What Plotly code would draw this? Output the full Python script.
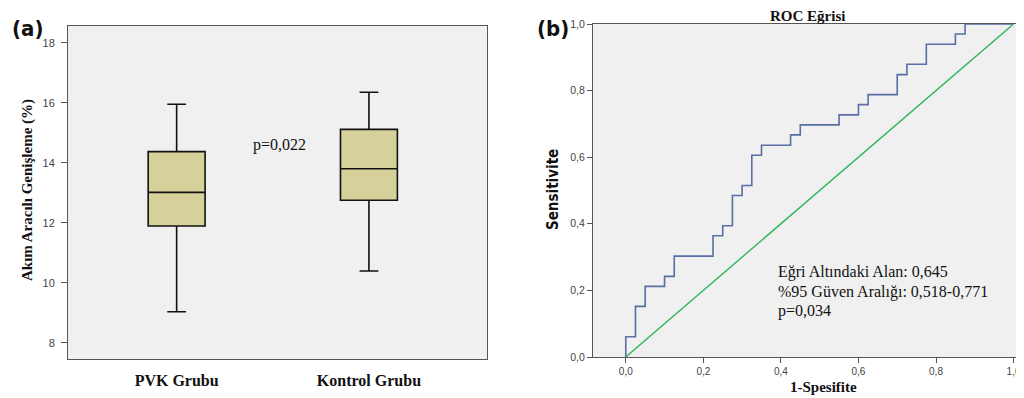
import plotly.graph_objects as go

# ---------------- data ----------------
groups = ["PVK Grubu", "Kontrol Grubu"]
lower_whisker = [9.03, 10.39]
q1_vals = [11.89, 12.75]
median_vals = [13.01, 13.80]
q3_vals = [14.37, 15.11]
upper_whisker = [15.95, 16.35]
p_group = "p=0,022"

roc_fpr = [0.0, 0.0, 0.025, 0.05, 0.10, 0.125, 0.225, 0.25, 0.275, 0.30, 0.325, 0.35,
           0.425, 0.45, 0.55, 0.60, 0.625, 0.70, 0.725, 0.775, 0.85, 0.875, 1.0]
roc_tpr = [0.0, 0.061, 0.152, 0.212, 0.242, 0.303, 0.364, 0.394, 0.485, 0.515, 0.606, 0.636,
           0.667, 0.697, 0.727, 0.758, 0.788, 0.848, 0.879, 0.939, 0.970, 1.0, 1.0]
ref_line = [0.0, 1.0]
roc_text = ["Eğri Altındaki Alan: 0,645", "%95 Güven Aralığı: 0,518-0,771", "p=0,034"]

left_yticks = [8, 10, 12, 14, 16, 18]
roc_ticks = [0.0, 0.2, 0.4, 0.6, 0.8, 1.0]

# page body has an 8px margin, so the figure is placed 8px in from the top-left
OFF = 8
W, H = 1024 - OFF, 398 - OFF
def px(x):
    return (x - OFF) / W
def py(y):
    return 1 - (y - OFF) / H

SERIF = "Liberation Serif, Times New Roman, serif"
SANS = "Liberation Sans, Arial, sans-serif"
NARROW = "Liberation Sans Narrow, DejaVu Sans Condensed, Arial Narrow, sans-serif"
FRAME = "#555555"
BOXFILL = "#d6d09b"
PLOTBG = "#f0f0f0"

fig = go.Figure()

for i, g in enumerate(groups):
    fig.add_trace(go.Box(
        x=[i], q1=[q1_vals[i]], median=[median_vals[i]], q3=[q3_vals[i]],
        lowerfence=[lower_whisker[i]], upperfence=[upper_whisker[i]],
        name=g, fillcolor=BOXFILL, line=dict(color="#111111", width=1.6),
        width=0.296, whiskerwidth=0.33, boxpoints=False,
        xaxis="x", yaxis="y", showlegend=False, hoverinfo="skip"))

fig.add_trace(go.Scatter(
    x=roc_fpr, y=roc_tpr, mode="lines", line=dict(color="#5a6ea6", width=1.6, shape="hv"),
    xaxis="x2", yaxis="y2", showlegend=False, cliponaxis=False))
fig.add_trace(go.Scatter(
    x=ref_line, y=ref_line, mode="lines", line=dict(color="#2fb55a", width=1.4),
    xaxis="x2", yaxis="y2", showlegend=False, cliponaxis=False))

axis_common = dict(showline=True, mirror=True, linecolor=FRAME, linewidth=1,
                   showgrid=False, zeroline=False, automargin=False)

fig.update_layout(
    width=W, height=H, margin=dict(l=0, r=0, t=0, b=0, autoexpand=False),
    paper_bgcolor="white", plot_bgcolor=PLOTBG,
    separators=",.",
    xaxis=dict(domain=[px(68), px(487)], range=[-0.565, 1.614], anchor="y",
               tickvals=[0, 1], ticktext=["<b>%s</b>" % g for g in groups],
               ticks="", ticklabelstandoff=7,
               tickfont=dict(family=SERIF, size=16, color="#111111"), **axis_common),
    yaxis=dict(domain=[py(359), py(26)], range=[7.457, 18.557], anchor="x",
               tickvals=left_yticks, ticks="outside", ticklen=6, tickcolor=FRAME,
               ticklabelstandoff=4,
               tickfont=dict(family=SANS, size=11, color="#444444"), **axis_common),
    xaxis2=dict(domain=[px(593), 1.0], range=[-0.0845, 1.0269], anchor="y2",
                tickvals=roc_ticks, tickformat=".1f", ticks="outside", ticklen=5,
                tickcolor=FRAME, tickfont=dict(family=SANS, size=10, color="#444444"),
                **axis_common),
    yaxis2=dict(domain=[py(357), py(24)], range=[0, 1], anchor="x2",
                tickvals=roc_ticks, tickformat=".1f", ticks="outside", ticklen=5,
                tickcolor=FRAME, tickfont=dict(family=SANS, size=10.5, color="#444444"),
                **axis_common),
)

ann = []
ann.append(dict(x=px(27), y=py(28), text="<b>(a)</b>", font=dict(family=NARROW, size=22, color="#111")))
ann.append(dict(x=px(553), y=py(28), text="<b>(b)</b>", font=dict(family=NARROW, size=22, color="#111")))
ann.append(dict(x=px(27), y=py(190), text="<b>Akım Aracılı Genişleme (%)</b>", textangle=-90,
                font=dict(family=SERIF, size=15, color="#111")))
ann.append(dict(x=px(553), y=py(190), text="<b>Sensitivite</b>", textangle=-90,
                font=dict(family=NARROW, size=15, color="#111")))
ann.append(dict(x=px(279), y=py(145), text=p_group, font=dict(family=SERIF, size=16, color="#111")))
ann.append(dict(x=px(807), y=py(16), text="<b>ROC Eğrisi</b>", font=dict(family=SERIF, size=15, color="#111")))
ann.append(dict(x=px(823), y=py(387), text="<b>1-Spesifite</b>", font=dict(family=SERIF, size=15, color="#111")))
for k, (t, yy) in enumerate(zip(roc_text, [272, 292, 311])):
    ann.append(dict(x=px(776), y=py(yy), text=t, xanchor="left",
                    font=dict(family=SERIF, size=16, color="#111")))
for a in ann:
    a.setdefault("xanchor", "center")
    a["xref"] = "paper"; a["yref"] = "paper"; a["showarrow"] = False; a["yanchor"] = "middle"
fig.update_layout(annotations=ann)

fig.write_html("out.html")
